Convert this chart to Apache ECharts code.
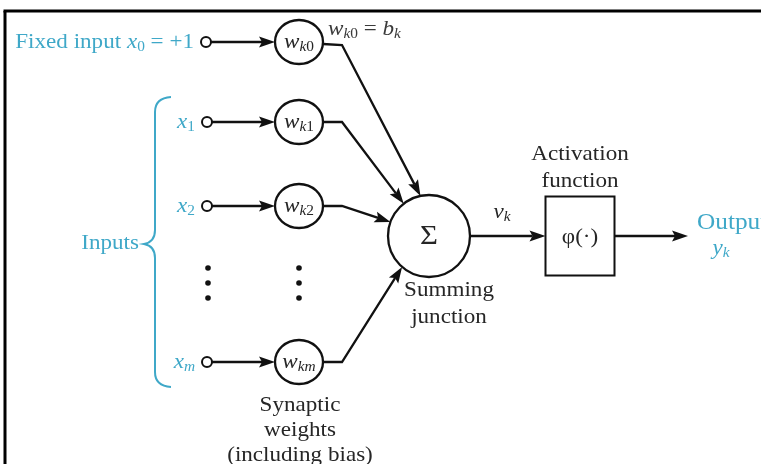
<!DOCTYPE html>
<html><head><meta charset="utf-8">
<script src="https://cdn.jsdelivr.net/npm/echarts@6/dist/echarts.min.js"></script>
<style>html,body{margin:0;padding:0;background:#fff}#c{width:761px;height:464px}</style>
</head><body><div id="c"></div>
<script>
// ---- diagram content ----
const inputLabels = ['{r|Fixed input }{i|x}{s|0}{r| = +1}', '{i|x}{s|1}', '{i|x}{s|2}', '{i|x}{si|m}'];
const weightLabels = ['{i|w}{si|k}{s|0}', '{i|w}{si|k}{s|1}', '{i|w}{si|k}{s|2}', '{i|w}{si|k}{si|m}'];
const rowY = [42, 122, 206, 362];
const inputX = [206, 207, 207, 207];
const weightX = 299;
const bendX = 342;
const sumEntryAngle = [-102, -128, -160, 131];
const dotsX = [208, 299];
const dotsY = [268, 283, 298];
const sumNode = [429, 236];
const actNode = [580, 236];
const outputEndX = 688;
const biasText = '{i|w}{si|k}{s|0}{r| = }{i|b}{si|k}';
const sumLabel = 'Σ';
const actLabel = 'φ(·)';
const vLabel = '{i|v}{si|k}';
const outLabel = 'Output';
const yLabel = '{i|y}{si|k}';
const captions = {
  sum: 'Summing\njunction',
  act: 'Activation\nfunction',
  syn: 'Synaptic\nweights\n(including bias)',
  inputs: 'Inputs'
};

// ---- styles ----
const CYAN = '#3fa8c8', INK = '#111', TXT = '#262626';
const SERIF = '"Liberation Serif","DejaVu Serif",serif';
const FS = 21, SX = 1.1, LW = 2.3;
function rich(color) {
  return {
    r: {fontSize: FS, fontFamily: SERIF, fill: color, lineHeight: 24, verticalAlign: 'middle'},
    i: {fontSize: FS, fontFamily: SERIF, fontStyle: 'italic', fill: color, lineHeight: 24, verticalAlign: 'middle'},
    s: {fontSize: 14, fontFamily: SERIF, fill: color, lineHeight: 15, verticalAlign: 'bottom'},
    si: {fontSize: 14, fontFamily: SERIF, fontStyle: 'italic', fill: color, lineHeight: 15, verticalAlign: 'bottom'}
  };
}
const RX = 24, RY = 22, SR = 41, BOXW = 69, BOXH = 79;

function arrow(points, color) {
  const n = points.length;
  const to = points[n - 1], from = points[n - 2];
  const dx = to[0] - from[0], dy = to[1] - from[1], len = Math.hypot(dx, dy);
  const ux = dx / len, uy = dy / len, L = 16, HW = 5.5;
  const base = [to[0] - ux * L, to[1] - uy * L];
  const pts = points.slice(0, n - 1).concat([[base[0] + ux * 3, base[1] + uy * 3]]);
  return [
    {type: 'polyline', shape: {points: pts}, style: {stroke: color, lineWidth: LW, fill: null, lineJoin: 'miter'}},
    {type: 'polygon', shape: {points: [to, [base[0] - uy * HW, base[1] + ux * HW], [to[0] - ux * (L - 3), to[1] - uy * (L - 3)], [base[0] + uy * HW, base[1] - ux * HW]]}, style: {fill: color}}
  ];
}
function text(x, y, str, opt) {
  return {type: 'text', x: x, y: y, scaleX: SX,
    style: Object.assign({text: str, x: 0, y: 0, fontFamily: SERIF, fontSize: FS, fill: TXT, align: 'center', verticalAlign: 'middle'}, opt || {})};
}

function renderRow(params, api) {
  const i = api.value(2);
  const p = api.coord([api.value(0), api.value(1)]);
  const y = p[1];
  const w = api.coord([weightX, rowY[i]]);
  const b = api.coord([bendX, rowY[i]]);
  const s = api.coord(sumNode);
  const a = sumEntryAngle[i] * Math.PI / 180;
  const tip = [s[0] + SR * Math.cos(a), s[1] + SR * Math.sin(a)];
  const ch = [];
  ch.push(text(p[0] - 12, y, inputLabels[i], {align: 'right', rich: rich(CYAN), fill: CYAN}));
  ch.push.apply(ch, arrow([[p[0] + 5, y], [w[0] - RX, y]], INK));
  ch.push({type: 'circle', shape: {cx: p[0], cy: y, r: 5}, style: {fill: '#fff', stroke: INK, lineWidth: 2}});
  ch.push.apply(ch, arrow([[w[0] + RX, y + (i === 0 ? 2 : 0)], [b[0], y + (i === 0 ? 3 : 0)], tip], INK));
  ch.push({type: 'ellipse', shape: {cx: w[0], cy: y, rx: RX, ry: RY}, style: {fill: '#fff', stroke: INK, lineWidth: LW}});
  ch.push(text(w[0], y, weightLabels[i], {rich: rich(TXT)}));
  return {type: 'group', children: ch};
}

function renderCore(params, api) {
  const s = api.coord(sumNode), q = api.coord(actNode);
  const ch = [];
  // frame
  const tl = api.coord([5, 11]), tr = api.coord([761, 11]), bl = api.coord([5, 464]);
  ch.push({type: 'line', shape: {x1: tl[0] - 1.5, y1: tl[1], x2: tr[0], y2: tr[1]}, style: {stroke: '#000', lineWidth: 3}});
  ch.push({type: 'line', shape: {x1: tl[0], y1: tl[1], x2: bl[0], y2: bl[1]}, style: {stroke: '#000', lineWidth: 3}});
  // bias label
  const bl2 = api.coord([328, 29]);
  ch.push(text(bl2[0], bl2[1], biasText, {align: 'left', rich: rich('#3a3a3a')}));
  // dots
  dotsX.forEach(function (x) { dotsY.forEach(function (y) {
    const d = api.coord([x, y]);
    ch.push({type: 'circle', shape: {cx: d[0], cy: d[1], r: 2.8}, style: {fill: INK}});
  }); });
  // brace
  const P = function (x, y) { const c = api.coord([x, y]); return c[0] + ',' + c[1]; };
  ch.push({type: 'path', shape: {pathData: 'M' + P(171, 97) + ' Q' + P(155, 98) + ' ' + P(155, 112) + ' L' + P(155, 230) + ' Q' + P(155, 242) + ' ' + P(144, 244) + ' Q' + P(155, 246) + ' ' + P(155, 258) + ' L' + P(155, 372) + ' Q' + P(155, 386) + ' ' + P(171, 387)}, style: {stroke: CYAN, lineWidth: 2, fill: null}});
  const ip = api.coord([139, 243]);
  ch.push(text(ip[0], ip[1], captions.inputs, {align: 'right', fill: CYAN}));
  // sum -> activation -> output
  ch.push.apply(ch, arrow([[s[0] + SR, s[1]], [q[0] - BOXW / 2, q[1]]], INK));
  ch.push.apply(ch, arrow([[q[0] + BOXW / 2, q[1]], [api.coord([outputEndX, sumNode[1]])[0], q[1]]], INK));
  ch.push({type: 'circle', shape: {cx: s[0], cy: s[1], r: SR}, style: {fill: '#fff', stroke: INK, lineWidth: LW}});
  ch.push(text(s[0], s[1] + 1, sumLabel, {fontSize: 28}));
  ch.push({type: 'rect', shape: {x: q[0] - BOXW / 2, y: q[1] - BOXH / 2, width: BOXW, height: BOXH}, style: {fill: '#fff', stroke: INK, lineWidth: 2}});
  ch.push(text(q[0], q[1] + 1, actLabel, {fontSize: 21}));
  const vp = api.coord([502, 212]);
  ch.push(text(vp[0], vp[1], vLabel, {rich: rich(TXT)}));
  const sc = api.coord([449, 304]);
  ch.push(text(sc[0], sc[1], captions.sum, {lineHeight: 27}));
  const ac = api.coord([580, 168]);
  ch.push(text(ac[0], ac[1], captions.act, {lineHeight: 27}));
  const sy = api.coord([300, 430]);
  ch.push(text(sy[0], sy[1], captions.syn, {lineHeight: 25}));
  const op = api.coord([697, 223]);
  ch.push(text(op[0], op[1], outLabel, {align: 'left', fill: CYAN, fontSize: 23}));
  const yp = api.coord([721, 248]);
  ch.push(text(yp[0], yp[1], yLabel, {rich: rich(CYAN)}));
  return {type: 'group', children: ch};
}

const chart = echarts.init(document.getElementById('c'), null, {renderer: 'canvas'});
chart.setOption({
  animation: false,
  backgroundColor: '#fff',
  grid: {left: 0, right: 0, top: 0, bottom: 0},
  xAxis: {type: 'value', min: 0, max: 761, show: false},
  yAxis: {type: 'value', min: 0, max: 464, inverse: true, show: false},
  series: [
    {type: 'custom', clip: false, renderItem: renderCore, data: [[0, 0]]},
    {type: 'custom', clip: false, renderItem: renderRow, data: rowY.map(function (y, i) { return [inputX[i], y, i]; })}
  ]
});
</script></body></html>
